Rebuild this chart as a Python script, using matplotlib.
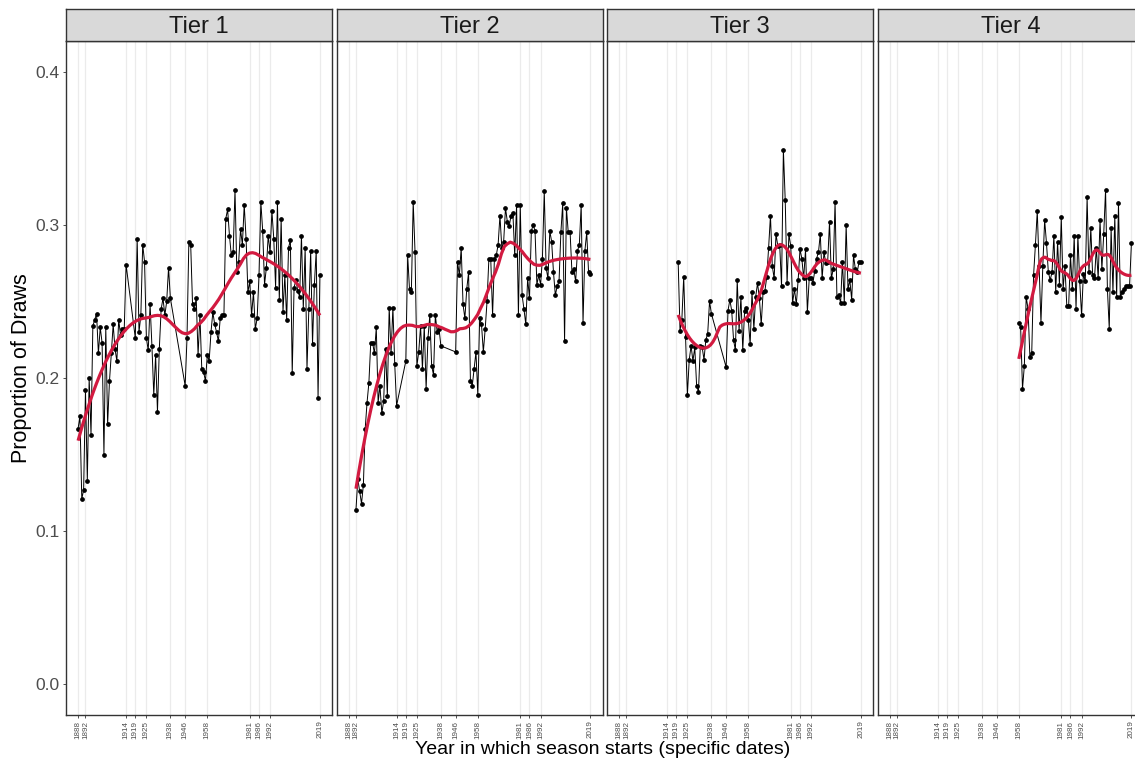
import numpy as np
import matplotlib
matplotlib.use("Agg")
import matplotlib.pyplot as plt

plt.rcParams['font.family'] = ['Liberation Sans', 'DejaVu Sans']

# ---------------- data ----------------
tier_names = ["Tier 1", "Tier 2", "Tier 3", "Tier 4"]
break_years = [1888, 1892, 1914, 1919, 1925, 1938, 1946, 1958, 1981, 1986, 1992, 2019]

t1_years = list(range(1888, 1915)) + list(range(1919, 1939)) + list(range(1946, 2020))
t1_draws = [
    0.167, 0.175, 0.121, 0.127, 0.192, 0.133, 0.200, 0.163, 0.234, 0.238,
    0.242, 0.216, 0.233, 0.223, 0.150, 0.233, 0.170, 0.198, 0.216, 0.235,
    0.219, 0.211, 0.238, 0.228, 0.232, 0.232, 0.274,
    0.226, 0.291, 0.230, 0.241, 0.287, 0.276, 0.226, 0.218, 0.248, 0.221,
    0.189, 0.215, 0.178, 0.219, 0.245, 0.252, 0.241, 0.250, 0.272, 0.252,
    0.195, 0.226, 0.289, 0.287, 0.248, 0.245, 0.252, 0.215, 0.241, 0.206,
    0.204, 0.198, 0.215, 0.211, 0.230, 0.243, 0.235, 0.230, 0.224, 0.239,
    0.241, 0.241, 0.304, 0.310, 0.293, 0.280, 0.282, 0.323, 0.269, 0.276,
    0.297, 0.287, 0.313, 0.291, 0.256, 0.263, 0.241, 0.256, 0.232, 0.239,
    0.267, 0.315, 0.296, 0.261, 0.272, 0.293, 0.282, 0.309, 0.291, 0.259,
    0.315, 0.251, 0.304, 0.243, 0.267, 0.238, 0.285, 0.290, 0.203, 0.259,
    0.264, 0.257, 0.253, 0.293, 0.245, 0.285, 0.206, 0.245, 0.283, 0.222,
    0.261, 0.283, 0.187, 0.267,
]

t2_years = list(range(1892, 1915)) + list(range(1919, 1939)) + list(range(1946, 2020))
t2_draws = [
    0.114, 0.134, 0.126, 0.118, 0.130, 0.167, 0.184, 0.197, 0.223, 0.223,
    0.216, 0.233, 0.184, 0.195, 0.177, 0.185, 0.219, 0.188, 0.246, 0.216,
    0.246, 0.209, 0.182,
    0.211, 0.280, 0.258, 0.256, 0.315, 0.282, 0.208, 0.217, 0.234, 0.206,
    0.234, 0.193, 0.226, 0.241, 0.208, 0.202, 0.241, 0.230, 0.232, 0.221,
    0.217, 0.276, 0.267, 0.285, 0.248, 0.239, 0.258, 0.269, 0.198, 0.195,
    0.206, 0.217, 0.189, 0.239, 0.235, 0.217, 0.232, 0.250, 0.278, 0.278,
    0.241, 0.278, 0.280, 0.287, 0.306, 0.285, 0.289, 0.311, 0.302, 0.299,
    0.306, 0.308, 0.280, 0.313, 0.241, 0.313, 0.254, 0.245, 0.235, 0.265,
    0.252, 0.296, 0.300, 0.296, 0.261, 0.267, 0.261, 0.278, 0.322, 0.272,
    0.265, 0.296, 0.289, 0.269, 0.254, 0.260, 0.263, 0.295, 0.314, 0.224,
    0.311, 0.295, 0.295, 0.269, 0.271, 0.263, 0.283, 0.287, 0.313, 0.236,
    0.283, 0.295, 0.269, 0.268,
]

t3_years = list(range(1920, 1939)) + list(range(1946, 2020))
t3_draws = [
    0.276, 0.231, 0.238, 0.266, 0.227, 0.189, 0.212, 0.221, 0.211, 0.220,
    0.195, 0.191, 0.221, 0.220, 0.212, 0.225, 0.229, 0.250, 0.242,
    0.207, 0.244, 0.251, 0.244, 0.225, 0.218, 0.264, 0.231, 0.253, 0.218,
    0.244, 0.246, 0.238, 0.222, 0.256, 0.232, 0.253, 0.262, 0.252, 0.235,
    0.256, 0.257, 0.266, 0.285, 0.306, 0.273, 0.265, 0.294, 0.286, 0.287,
    0.260, 0.349, 0.316, 0.262, 0.294, 0.286, 0.249, 0.258, 0.248, 0.264,
    0.284, 0.278, 0.265, 0.284, 0.243, 0.265, 0.265, 0.262, 0.270, 0.278,
    0.282, 0.294, 0.265, 0.282, 0.275, 0.276, 0.302, 0.265, 0.271, 0.315,
    0.253, 0.254, 0.249, 0.276, 0.249, 0.300, 0.258, 0.264, 0.251, 0.280,
    0.271, 0.269, 0.276, 0.276,
]

t4_years = list(range(1958, 2020))
t4_draws = [
    0.236, 0.233, 0.193, 0.208, 0.253, 0.245, 0.214, 0.216, 0.267, 0.287,
    0.309, 0.273, 0.236, 0.273, 0.303, 0.288, 0.269, 0.264, 0.269, 0.293,
    0.256, 0.289, 0.261, 0.305, 0.258, 0.273, 0.247, 0.247, 0.280, 0.258,
    0.293, 0.245, 0.293, 0.263, 0.241, 0.268, 0.263, 0.318, 0.269, 0.298,
    0.267, 0.265, 0.285, 0.265, 0.303, 0.271, 0.294, 0.323, 0.258, 0.232,
    0.298, 0.256, 0.306, 0.253, 0.314, 0.253, 0.256, 0.258, 0.260, 0.260,
    0.260, 0.288,
]

all_years = [t1_years, t2_years, t3_years, t4_years]
all_draws = [t1_draws, t2_draws, t3_draws, t4_draws]

SPANS = [0.55, 0.45, 0.42, 0.4]


def loess(x, y, xs, span):
    x = np.asarray(x, float)
    y = np.asarray(y, float)
    n = len(x)
    q = int(np.floor(n * span))
    out = np.empty(len(xs))
    for i, x0 in enumerate(xs):
        d = np.abs(x - x0)
        h = np.sort(d)[q - 1]
        u = np.clip(d / h, 0, 1)
        w = (1 - u ** 3) ** 3
        X = np.vstack([np.ones(n), x - x0, (x - x0) ** 2]).T
        W = np.sqrt(w)
        beta, *_ = np.linalg.lstsq(X * W[:, None], y * W, rcond=None)
        out[i] = beta[0]
    return out


# ---------------- layout ----------------
W, H = 1135, 758
fig = plt.figure(figsize=(W / 100, H / 100), dpi=100)

left0 = 66
pw = 266
pitch = 270.5
ptop = 41
pbot = 715
strip_top = 9

xlim = (1888 - 0.05 * 131, 2019 + 0.05 * 131)
ylim = (-0.02, 0.42)

for k in range(4):
    l = left0 + k * pitch
    ax = fig.add_axes([l / W, (H - pbot) / H, pw / W, (pbot - ptop) / H])
    ax.set_xlim(*xlim)
    ax.set_ylim(*ylim)
    for b in break_years:
        ax.axvline(b, color="#EBEBEB", lw=0.9, zorder=0)
    yrs = np.array(all_years[k])
    vals = np.array(all_draws[k])
    ax.plot(yrs, vals, color="black", lw=0.7, zorder=2)
    ax.plot(yrs, vals, "o", color="black", ms=2.4, zorder=3)
    xs = np.linspace(yrs.min(), yrs.max(), 80)
    ax.plot(xs, loess(yrs, vals, xs, SPANS[k]), color="#D21A40", lw=2.3, zorder=4,
            solid_capstyle="butt")
    ax.set_xticks(break_years)
    ax.set_xticklabels([str(b) for b in break_years], rotation=90, fontsize=5.8,
                       color="#4D4D4D")
    ax.tick_params(axis="x", length=2.5, width=0.6, color="#333333", pad=1.5)
    ax.set_yticks([0.0, 0.1, 0.2, 0.3, 0.4])
    if k == 0:
        ax.set_yticklabels(["0.0", "0.1", "0.2", "0.3", "0.4"], fontsize=12.5,
                           color="#4D4D4D")
        ax.tick_params(axis="y", length=2.5, width=0.6, color="#333333", pad=2)
    else:
        ax.tick_params(axis="y", length=0, labelleft=False)
    for s in ax.spines.values():
        s.set_color("#333333")
        s.set_linewidth(1.0)

    sax = fig.add_axes([l / W, (H - ptop) / H, pw / W, (ptop - strip_top) / H])
    sax.set_facecolor("#D9D9D9")
    sax.set_xticks([])
    sax.set_yticks([])
    for s in sax.spines.values():
        s.set_color("#333333")
        s.set_linewidth(1.0)
    sax.text(0.5, 0.45, tier_names[k], ha="center", va="center", fontsize=17,
             color="#1A1A1A", transform=sax.transAxes)

fig.text(603 / W, 1 - 750 / H, "Year in which season starts (specific dates)",
         ha="center", va="center", fontsize=14, color="black")
fig.text(22 / W, 1 - 368 / H, "Proportion of Draws", ha="center", va="center",
         rotation=90, fontsize=15.5, color="black")

fig.savefig("out.png", dpi=100)
